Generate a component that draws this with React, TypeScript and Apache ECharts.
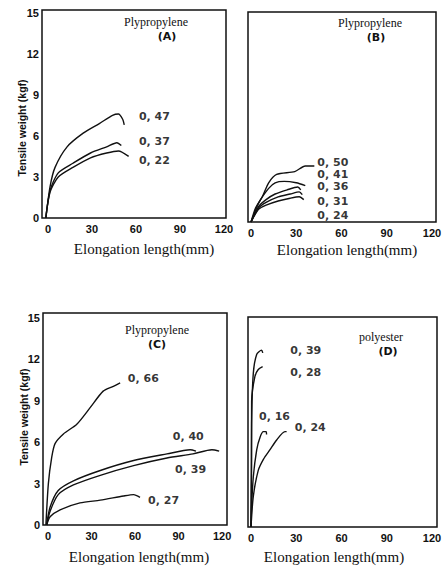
import React, { useEffect, useRef } from "react";
import * as echarts from "echarts";

const xTicks = [0, 30, 60, 90, 120];
const yTicks = [0, 3, 6, 9, 12, 15];

// Panel A – Plypropylene
const a47 = [[-1.5, 0], [1.4, 2.3], [4.8, 3.7], [13, 5.2], [24, 6.2], [35, 6.9], [44, 7.5], [48, 7.6], [51, 7.2], [52, 6.8]];
const a37 = [[-1.5, 0], [1.4, 2.0], [7, 3.3], [17, 4.0], [29, 4.75], [40, 5.2], [47, 5.5], [50, 5.3]];
const a22 = [[-1.5, 0], [1.4, 1.9], [7, 3.0], [17, 3.7], [29, 4.4], [40, 4.75], [48, 4.9], [55, 4.5]];
const aLabels = [["0, 47", 62, 7.4], ["0, 37", 62, 5.6], ["0, 22", 62, 4.2]];

// Panel B – Plypropylene
const b50 = [[0, 0], [3, 1.0], [7.5, 1.8], [11.7, 2.8], [17, 3.4], [29, 3.6], [36, 4.0], [42, 4.0]];
const b41 = [[0, 0], [5.3, 1.4], [11.7, 2.4], [16, 2.8], [22, 2.9], [30, 2.8], [36, 2.6]];
const b36 = [[0, 0], [5, 1.1], [10, 1.6], [16, 2.0], [24, 2.3], [31, 2.5], [33, 2.3]];
const b31 = [[0, 0], [5, 1.0], [10, 1.4], [18, 1.8], [26, 2.0], [32, 2.15], [34, 1.95]];
const b24 = [[0, 0], [5, 0.9], [10, 1.2], [18, 1.5], [26, 1.7], [32, 1.8], [35, 1.6]];
const bLabels = [["0, 50", 44, 4.25], ["0, 41", 44, 3.36], ["0, 36", 44, 2.52], ["0, 31", 44, 1.44], ["0, 24", 44, 0.5]];

// Panel C – Plypropylene
const c66 = [[-1.5, 0], [0.2, 3.0], [2.5, 4.9], [4.8, 5.9], [10.6, 6.6], [19.8, 7.3], [29, 8.5], [38, 9.7], [45, 10.05], [49.7, 10.3]];
const c40 = [[-1, 0], [1.4, 1.3], [7, 2.5], [17.5, 3.2], [36, 3.95], [59, 4.67], [82, 5.15], [98, 5.45], [102, 5.35]];
const c39 = [[-1, 0], [1.4, 1.0], [7, 2.2], [17.5, 2.9], [36, 3.6], [59, 4.3], [82, 4.85], [100, 5.15], [113, 5.45], [118, 5.35]];
const c27 = [[-1, 0], [1.4, 0.6], [8.3, 1.1], [22, 1.6], [36, 1.8], [52, 2.1], [59, 2.2], [63.4, 2.0]];
const cLabels = [["0, 66", 55, 10.65], ["0, 40", 86, 6.4], ["0, 39", 87.6, 4.0], ["0, 27", 69, 1.76]];

// Panel D – polyester
const d39 = [[0, 0], [0.3, 4], [0.4, 7.5], [1.5, 11.1], [3.8, 12.5], [7, 12.8], [7.8, 12.6]];
const d28 = [[0, 0], [0.3, 5], [0.4, 9.1], [2.6, 10.9], [4.8, 11.4], [7.7, 11.6]];
const d16 = [[0, 0], [0.4, 1.5], [1.5, 3.6], [3.8, 5.6], [6, 6.5], [8.2, 6.9], [10, 6.9], [10.3, 6.7]];
const d24 = [[0, 0], [1.5, 2.2], [4.8, 4.1], [8.2, 4.9], [12.6, 5.6], [17, 6.3], [22.5, 6.9], [23.6, 6.9]];
const dLabels = [["0, 39", 26, 12.8], ["0, 28", 26, 11.2], ["0, 16", 5.3, 8.0], ["0, 24", 29, 7.2]];

const panels = [
  { curves: [a47, a37, a22], labels: aLabels, grid: { left: 42, top: 10, width: 184, height: 208 }, x: [-4.1, 121.4], y: [0, 15.2], yLabels: true },
  { curves: [b50, b41, b36, b31, b24], labels: bLabels, grid: { left: 248, top: 12, width: 188, height: 210 }, x: [-2, 122.7], y: [0, 15], yLabels: false },
  { curves: [c66, c40, c39, c27], labels: cLabels, grid: { left: 43, top: 313, width: 184, height: 212 }, x: [-3.5, 123.4], y: [0, 15.36], yLabels: true },
  { curves: [d39, d28, d16, d24], labels: dLabels, grid: { left: 248, top: 317, width: 189, height: 210 }, x: [-2, 123.3], y: [0, 15.2], yLabels: false },
];

const titles = [
  ["Plypropylene", 156, 22], ["(A)", 167, 36],
  ["Plypropylene", 370, 23], ["(B)", 376, 37],
  ["Plypropylene", 157, 330], ["(C)", 157, 344],
  ["polyester", 381, 337], ["(D)", 388, 351],
];

const xNames = [[144, 249], [347, 250], [139, 557], [334, 557]];
const yNames = [[22, 128], [24, 417]];

const INK = "#111";
const NUM_FONT = "DejaVu Sans";
const TICK_FONT = "Liberation Sans";
const SERIF = "Liberation Serif";

export default function App() {
  const ref = useRef<HTMLDivElement>(null);
  useEffect(() => {
    if (!ref.current) return;
    const chart = echarts.init(ref.current, undefined, { renderer: "svg" });
    const series: any[] = [];
    panels.forEach((p, i) => {
      p.curves.forEach((c) => {
        series.push({
          type: "line",
          xAxisIndex: i,
          yAxisIndex: i,
          data: c,
          smooth: 0.25,
          showSymbol: false,
          symbol: "none",
          lineStyle: { color: INK, width: 1.4 },
        });
      });
      series.push({
        type: "scatter",
        xAxisIndex: i,
        yAxisIndex: i,
        data: p.labels.map((l) => [l[1], l[2], l[0]]),
        symbolSize: 0,
        label: {
          show: true,
          position: "right",
          distance: 0,
          formatter: (prm: any) => prm.data[2],
          color: "#000",
          fontFamily: NUM_FONT,
          fontWeight: "bold",
          fontSize: 11,
        },
      });
    });
    const graphic: any[] = [];
    titles.forEach((t, k) => {
      const isTag = k % 2 === 1;
      graphic.push({
        type: "text",
        x: t[1] as number,
        y: t[2] as number,
        style: {
          text: t[0] as string,
          fill: INK,
          font: isTag ? `bold 11px ${NUM_FONT}` : `12px ${SERIF}`,
          textAlign: "center",
          textVerticalAlign: "middle",
        },
      });
    });
    xNames.forEach((n) => {
      graphic.push({
        type: "text",
        x: n[0],
        y: n[1],
        style: { text: "Elongation length(mm)", fill: INK, font: `15px ${SERIF}`, textAlign: "center", textVerticalAlign: "middle" },
      });
    });
    yNames.forEach((n) => {
      graphic.push({
        type: "text",
        x: n[0],
        y: n[1],
        rotation: Math.PI / 2,
        style: { text: "Tensile weight (kgf)", fill: INK, font: `bold 10.5px ${TICK_FONT}`, textAlign: "center", textVerticalAlign: "middle" },
      });
    });
    chart.setOption({
      animation: false,
      backgroundColor: "#fff",
      grid: panels.map((p) => ({ ...p.grid, show: true, borderColor: INK, borderWidth: 1.5, backgroundColor: "transparent" })),
      xAxis: panels.map((p, i) => ({
        type: "value",
        gridIndex: i,
        min: p.x[0],
        max: p.x[1],
        axisLine: { show: false },
        axisTick: { show: false },
        splitLine: { show: false },
        axisLabel: { customValues: xTicks, color: INK, fontFamily: TICK_FONT, fontWeight: "bold", fontSize: 11, margin: 5 },
      })),
      yAxis: panels.map((p, i) => ({
        type: "value",
        gridIndex: i,
        min: p.y[0],
        max: p.y[1],
        axisLine: { show: false },
        axisTick: { show: false },
        splitLine: { show: false },
        axisLabel: { show: p.yLabels, customValues: yTicks, color: INK, fontFamily: TICK_FONT, fontWeight: "bold", fontSize: 11, margin: 3 },
      })),
      series,
      graphic,
    });
    return () => chart.dispose();
  }, []);
  return <div ref={ref} style={{ position: "fixed", left: 0, top: 0, width: 447, height: 569 }} />;
}
